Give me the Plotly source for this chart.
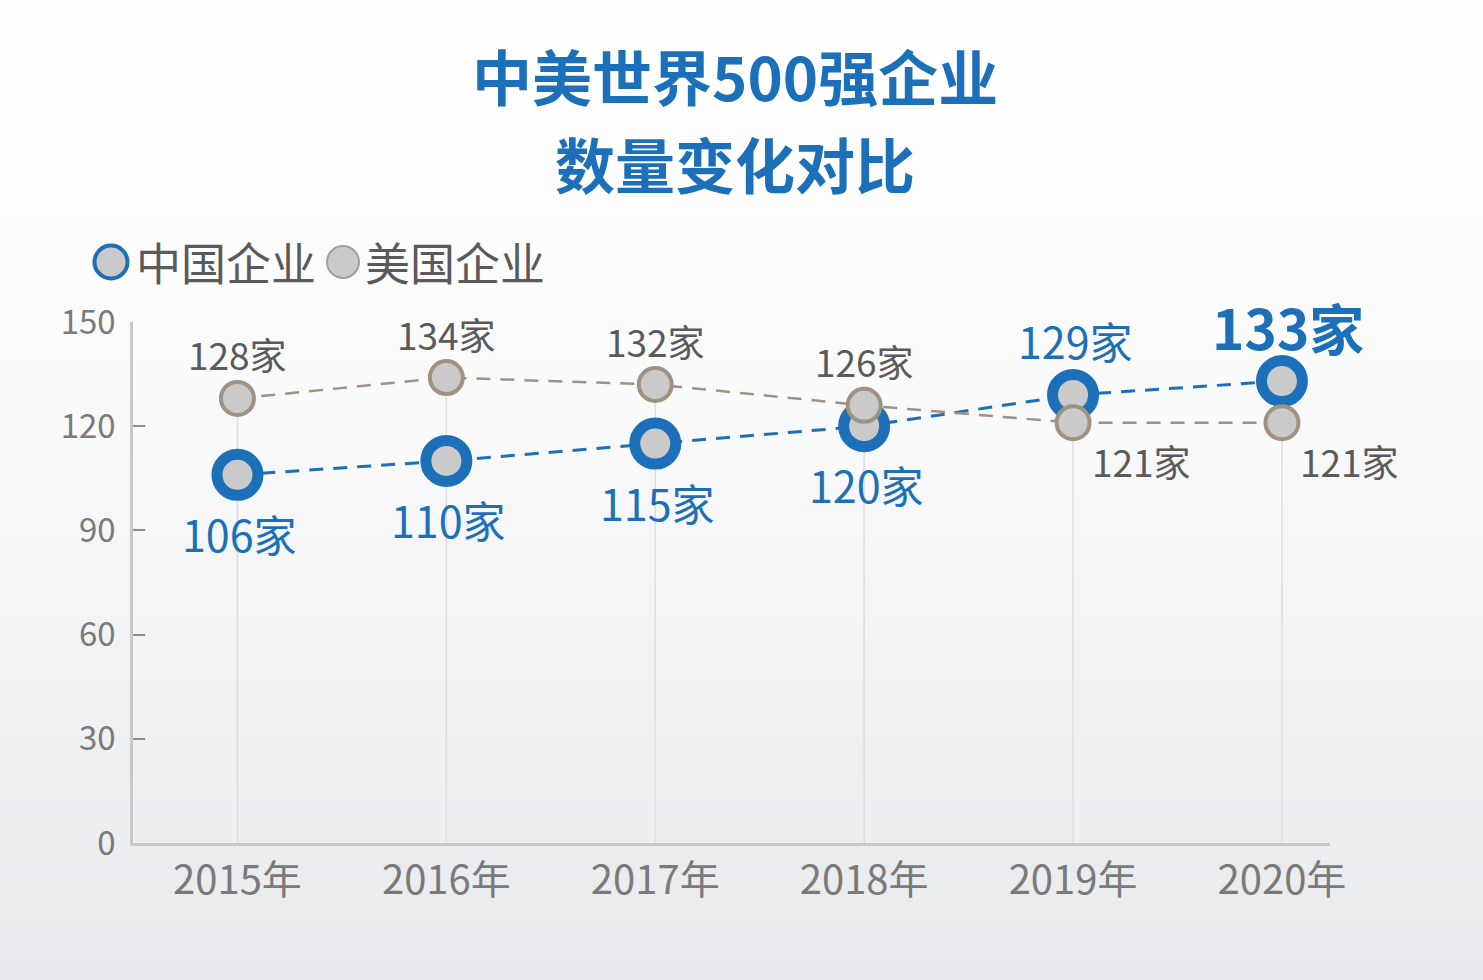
import plotly.graph_objects as go

# ---- data ----
years = ["2015年", "2016年", "2017年", "2018年", "2019年", "2020年"]
china = [106, 110, 115, 120, 129, 133]
usa = [128, 134, 132, 126, 121, 121]
series_names = ["中国企业", "美国企业"]
title_lines = ["中美世界500强企业", "数量变化对比"]
yticks = [0, 30, 60, 90, 120, 150]

FONT = "Noto Sans CJK SC"
BLUE = "#1b70b9"
BROWN = "#a09282"
FILL = "#cacaca"
GREY_TXT = "#5a5a5a"
AXIS_TXT = "#7a7a7a"

W, H = 1483, 980
L, R, T, B = 133, 153, 322, 137
PW, PH = W - L - R, H - T - B

def px(xpix):
    return (xpix - L) / PW

def py(ypix):
    return (H - B - ypix) / PH

xs = list(range(len(years)))

fig = go.Figure()

# background gradient bands
nb = 49
for i in range(nb):
    y0p = i * H / nb
    y1p = (i + 1) * H / nb
    t = (i + 0.5) / nb
    k = t ** 1.8
    r = round(254 - k * 24)
    g = round(254 - k * 22)
    b = round(254 - k * 19)
    fig.add_shape(type="rect", xref="paper", yref="paper",
                  x0=px(0), x1=px(W), y0=py(y1p), y1=py(y0p),
                  fillcolor=f"rgb({r},{g},{b})", line=dict(width=0), layer="below")

# drop lines from top point to axis
for i, x in enumerate(xs):
    fig.add_shape(type="line", xref="x", yref="y", x0=x, x1=x, y0=0,
                  y1=max(china[i], usa[i]), line=dict(color="#dedede", width=1.5),
                  layer="below")

fig.add_trace(go.Scatter(
    x=xs, y=china, mode="lines+markers", name=series_names[0],
    line=dict(color=BLUE, width=3, dash="14px,10px"),
    marker=dict(size=41, color=FILL, line=dict(color=BLUE, width=11)),
    showlegend=False, hoverinfo="skip"))
fig.add_trace(go.Scatter(
    x=xs, y=usa, mode="lines+markers", name=series_names[1],
    line=dict(color=BROWN, width=2.5, dash="14px,10px"),
    marker=dict(size=33, color=FILL, line=dict(color=BROWN, width=4)),
    showlegend=False, hoverinfo="skip"))

# value labels
for i, x in enumerate(xs):
    above = china[i] > usa[i]
    last = i == len(xs) - 1
    fig.add_annotation(
        x=x, y=china[i], xref="x", yref="y",
        text=(f"<b>{china[i]}家</b>" if last else f"{china[i]}家"),
        showarrow=False, font=dict(family=FONT, size=55 if last else 43, color=BLUE),
        yshift=(55 if above else -58), xshift=6 if last else 2)
    fig.add_annotation(
        x=x, y=usa[i], xref="x", yref="y", text=f"{usa[i]}家",
        showarrow=False, font=dict(family=FONT, size=37, color=GREY_TXT),
        yshift=(-38 if above else 44), xshift=(68 if above else 0))

# title (two separate lines)
for j, yy in enumerate([75, 163]):
    fig.add_annotation(xref="paper", yref="paper", x=px(735), y=py(yy),
                       xanchor="center", yanchor="middle",
                       text=f"<b>{title_lines[j]}</b>", showarrow=False,
                       font=dict(family=FONT, size=60, color=BLUE))

# manual legend
def legend_circle(cx, cy, d, fill, lc, lw):
    fig.add_shape(type="circle", xref="paper", yref="paper",
                  xsizemode="pixel", ysizemode="pixel",
                  xanchor=px(cx), yanchor=py(cy),
                  x0=-d / 2, x1=d / 2, y0=-d / 2, y1=d / 2,
                  fillcolor=fill, line=dict(color=lc, width=lw))

legend_circle(111, 262, 33, FILL, BLUE, 4)
legend_circle(343, 262, 32, FILL, "#a0a0a0", 2)
fig.add_annotation(xref="paper", yref="paper", x=px(134), y=py(262),
                   xanchor="left", yanchor="middle", text=series_names[0],
                   showarrow=False, font=dict(family=FONT, size=45, color=GREY_TXT))
fig.add_annotation(xref="paper", yref="paper", x=px(363), y=py(262),
                   xanchor="left", yanchor="middle", text=series_names[1],
                   showarrow=False, font=dict(family=FONT, size=45, color=GREY_TXT))

fig.update_layout(
    width=W, height=H,
    margin=dict(l=L, r=R, t=T, b=B),
    paper_bgcolor="white", plot_bgcolor="rgba(0,0,0,0)",
    font=dict(family=FONT),
    xaxis=dict(
        range=[-0.5, 5.23], tickmode="array", tickvals=xs, ticktext=years,
        showgrid=False, zeroline=False, showline=True, linecolor="#c8c8c8",
        linewidth=2.5, ticks="", tickfont=dict(family=FONT, size=40, color=AXIS_TXT),
        ticklabelstandoff=0),
    yaxis=dict(
        range=[0, 150], tickmode="array", tickvals=yticks,
        showgrid=False, zeroline=False, showline=True, linecolor="#c8c8c8",
        linewidth=2.5, ticks="inside", ticklen=12, tickwidth=2, tickcolor="#8a8a8a",
        tickfont=dict(family=FONT, size=33, color=AXIS_TXT), ticklabelstandoff=8),
)

fig.write_html("out.html")
